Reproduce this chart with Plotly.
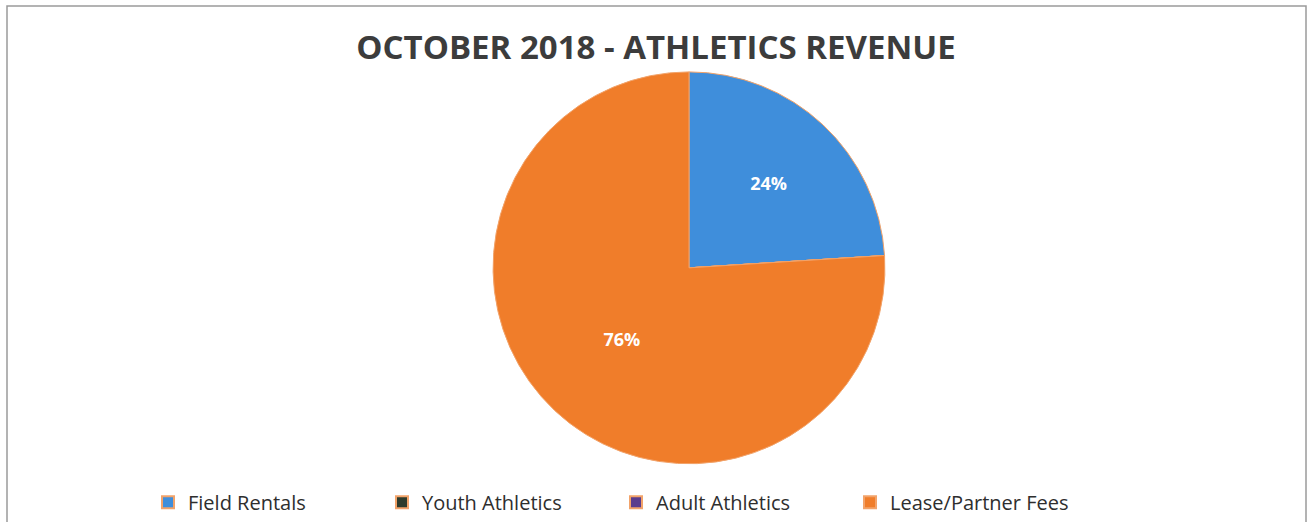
import plotly.graph_objects as go

# October 2018 athletics revenue share by category
categories = ["Field Rentals", "Youth Athletics", "Adult Athletics", "Lease/Partner Fees"]
shares = [24, 0, 0, 76]
colors = ["#3F8EDB", "#2E3B2C", "#5A3C8E", "#F07D2A"]

W, H = 1310, 522
cx, cy, r = 689, 272, 199

fig = go.Figure(
    go.Pie(
        labels=categories,
        values=shares,
        sort=False,
        direction="clockwise",
        rotation=0,
        marker=dict(colors=colors, line=dict(color="#F2A36A", width=1)),
        texttemplate="<b>%{percent:.0%}</b>",
        textposition=["inside" if v > 0 else "none" for v in shares],
        insidetextfont=dict(color="white", size=18, family="Open Sans"),
        insidetextorientation="horizontal",
        hoverinfo="label+percent",
        domain=dict(x=[(cx - r) / W, (cx + r) / W], y=[1 - (cy + r) / H, 1 - (cy - r) / H]),
    )
)

fig.update_layout(
    width=W,
    height=H,
    margin=dict(l=0, r=0, t=0, b=0),
    paper_bgcolor="white",
    plot_bgcolor="white",
    title=dict(
        text="<b>OCTOBER 2018 - ATHLETICS REVENUE</b>",
        x=656 / W,
        xanchor="center",
        y=1 - 47 / H,
        yanchor="middle",
        font=dict(family="Open Sans", size=33, color="#3C3C3C"),
    ),
    legend=dict(
        orientation="h",
        x=148 / W,
        xanchor="left",
        y=1 - 510 / H,
        yanchor="middle",
        entrywidth=189,
        entrywidthmode="pixels",
        font=dict(family="Open Sans", size=20, color="#2E2E2E"),
        itemsizing="constant",
    ),
    shapes=[
        dict(
            type="rect",
            xref="paper",
            yref="paper",
            x0=7 / W,
            x1=1306 / W,
            y0=-0.05,
            y1=1 - 6 / H,
            line=dict(color="#9A9A9A", width=1.5),
            fillcolor="rgba(0,0,0,0)",
            layer="below",
        )
    ],
)

fig.write_html("out.html")
